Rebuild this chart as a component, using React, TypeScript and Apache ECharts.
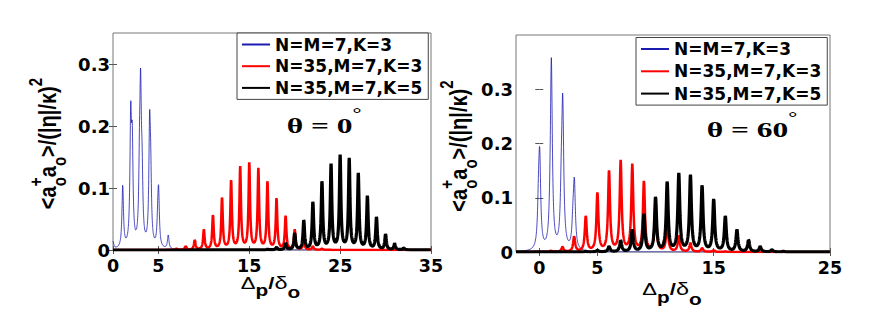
import React, { useEffect, useRef } from "react";
import * as echarts from "echarts";

// ---------- data ----------
const SERIES_NAMES = ["N=M=7,K=3", "N=35,M=7,K=3", "N=35,M=7,K=5"];
const SERIES_COLORS = ["#1c1cb0", "#ff0000", "#000000"];
const SERIES_WIDTHS = [0.8, 2.5, 3.2];

// panel a : theta = 0 deg  (peak centres and peak heights)
const A_BLUE_POS = [0.0, 1.07, 1.95, 2.12, 2.92, 3.04, 3.2, 4.03, 4.15, 4.93, 5.02, 6.08];
const A_BLUE_H = [0.012, 0.1, 0.195, 0.15, 0.1, 0.22, 0.093, 0.18, 0.093, 0.035, 0.08, 0.022];
const A_RED_POS = [7, 8, 9, 10, 11, 12, 13, 14, 15, 16, 17, 18, 19, 20, 21, 22, 23];
const A_RED_H = [0.002, 0.006, 0.016, 0.032, 0.055, 0.083, 0.111, 0.132, 0.138, 0.129, 0.109, 0.082, 0.054, 0.032, 0.016, 0.006, 0.002];
const A_BLACK_POS = [17, 18, 19, 20, 21, 22, 23, 24, 25, 26, 27, 28, 29, 30, 31, 32];
const A_BLACK_H = [0.001, 0.004, 0.011, 0.027, 0.047, 0.076, 0.109, 0.136, 0.15, 0.145, 0.121, 0.086, 0.052, 0.025, 0.01, 0.003];

// panel b : theta = 60 deg
const B_BLUE_POS = [-0.06, 0.04, 0.93, 1.04, 1.9, 2.02, 2.9, 3.02];
const B_BLUE_H = [0.072, 0.152, 0.02, 0.343, 0.085, 0.251, 0.042, 0.117];
const B_RED_POS = [1, 2, 3, 4, 5, 6, 7, 8, 9, 10, 11, 12, 13, 14, 15, 16];
const B_RED_H = [0.002, 0.009, 0.028, 0.065, 0.108, 0.147, 0.166, 0.159, 0.129, 0.09, 0.055, 0.03, 0.016, 0.007, 0.003, 0.001];
const B_BLACK_POS = [4, 5, 6, 7, 8, 9, 10, 11, 12, 13, 14, 15, 16, 17, 18, 19, 20, 21];
const B_BLACK_H = [0.001, 0.003, 0.01, 0.021, 0.04, 0.069, 0.1, 0.128, 0.142, 0.139, 0.121, 0.096, 0.065, 0.04, 0.022, 0.01, 0.004, 0.001];

const PEAK_WIDTH_BLUE = 0.1;
const PEAK_WIDTH = 0.1;

const A_X_RANGE = [0, 35];
const B_X_RANGE = [-2, 25];
const A_Y_MAX = 0.35;
const B_Y_MAX = 0.4;
const A_X_TICKS = [0, 5, 15, 25, 35];
const B_X_TICKS = [0, 5, 15, 25];
const Y_TICKS = [0, 0.1, 0.2, 0.3];

// ---------- helpers ----------
function peaksCurve(pos: number[], h: number[], g: number, range: number[]) {
  const step = 0.01;
  const n = Math.round((range[1] - range[0]) / step);
  const out: number[][] = [];
  const g2 = g * g;
  for (let i = 0; i <= n; i++) {
    const x = range[0] + i * step;
    let y = 0;
    for (let k = 0; k < pos.length; k++) {
      const d = x - pos[k];
      y += (h[k] * g2) / (g2 + d * d);
    }
    out.push([Math.round(x * 1000) / 1000, y]);
  }
  return out;
}

type Piece = { t: string; size: number; bold?: boolean; serif?: boolean; dy: number; over?: boolean };
let measureCtx: CanvasRenderingContext2D | null = null;
function fam(p: Piece) {
  return p.serif ? "Liberation Serif" : "Liberation Sans";
}
function textWidth(p: Piece) {
  if (!measureCtx) measureCtx = document.createElement("canvas").getContext("2d");
  if (!measureCtx) return p.t.length * p.size * 0.6;
  measureCtx.font = `${p.bold ? "bold " : ""}${p.size}px "${fam(p)}"`;
  return measureCtx.measureText(p.t).width;
}
function formula(
  pieces: Piece[],
  x: number,
  y: number,
  opts: { rotation?: number; scaleX?: number; scaleY?: number; center?: boolean }
) {
  let cursor = 0;
  let prevStart = 0;
  const items: { p: Piece; start: number }[] = [];
  for (const p of pieces) {
    const w = textWidth(p);
    const start = p.over ? prevStart : cursor;
    cursor = Math.max(p.over ? cursor : 0, start + w);
    items.push({ p, start });
    prevStart = start;
  }
  const shift = opts.center ? -cursor / 2 : 0;
  return {
    type: "group",
    x,
    y,
    rotation: opts.rotation || 0,
    scaleX: opts.scaleX || 1,
    scaleY: opts.scaleY || 1,
    silent: true,
    children: items.map(({ p, start }) => ({
      type: "text",
      x: start + shift,
      y: p.dy,
      style: {
        text: p.t,
        fontSize: p.size,
        fontWeight: p.bold ? "bold" : "normal",
        fontFamily: fam(p),
        fill: "#000",
        align: "left",
        verticalAlign: "middle",
        textAlign: "left",
        textVerticalAlign: "middle",
      },
    })),
  };
}

const tickFont = { fontFamily: "DejaVu Sans", fontWeight: "bold" as const, color: "#000" };

function xAxes(grid: number, range: number[], ticks: number[]) {
  const base = {
    type: "value",
    gridIndex: grid,
    min: range[0],
    max: range[1],
    axisLine: { show: false },
    splitLine: { show: false },
  };
  return [
    {
      ...base,
      position: "bottom",
      axisTick: { show: true, inside: true, length: 4, customValues: ticks, lineStyle: { color: "#555" } },
      axisLabel: { customValues: ticks, margin: 7, fontSize: 17.5, ...tickFont },
    },
    {
      ...base,
      position: "top",
      axisTick: { show: true, inside: true, length: 4, customValues: ticks, lineStyle: { color: "#555" } },
      axisLabel: { show: false },
    },
  ];
}
function yAxes(grid: number, max: number) {
  const base = {
    type: "value",
    gridIndex: grid,
    min: 0,
    max,
    axisLine: { show: false },
    splitLine: { show: false },
  };
  return [
    {
      ...base,
      position: "left",
      axisTick: { show: true, inside: true, length: 4, customValues: Y_TICKS, lineStyle: { color: "#555" } },
      axisLabel: { customValues: Y_TICKS, margin: 3, fontSize: 18, ...tickFont },
    },
    {
      ...base,
      position: "right",
      axisTick: { show: true, inside: true, length: 4, customValues: Y_TICKS, lineStyle: { color: "#555" } },
      axisLabel: { show: false },
    },
  ];
}

function yTitle(x: number, y: number) {
  return formula(
    [
      { t: "<a", size: 20, bold: true, dy: -6 },
      { t: "+", size: 15, bold: true, dy: -16 },
      { t: "o", size: 15, bold: true, dy: 4, over: true },
      { t: "a", size: 20, bold: true, dy: -6 },
      { t: "o", size: 15, bold: true, dy: 4 },
      { t: ">/(|η|/κ)", size: 20, bold: true, dy: -6 },
      { t: "2", size: 15, bold: true, dy: -16 },
    ],
    x,
    y,
    { rotation: Math.PI / 2, scaleY: 1.2, center: true }
  );
}
function xTitle(x: number, y: number) {
  return formula(
    [
      { t: "Δ", size: 17, dy: -6 },
      { t: "p", size: 16, bold: true, dy: 2 },
      { t: "/", size: 17, bold: true, dy: -6 },
      { t: "δ", size: 18, dy: -6 },
      { t: "o", size: 16, bold: true, dy: 4 },
    ],
    x,
    y,
    { scaleX: 1.3, center: true }
  );
}
function thetaLabel(x: number, y: number, deg: string) {
  return formula(
    [
      { t: `θ = ${deg}`, size: 21, bold: true, serif: true, dy: -7 },
      { t: "°", size: 15, bold: true, serif: true, dy: -20 },
    ],
    x,
    y,
    { scaleX: 1.5 }
  );
}

function legend(left: number, top: number, gap: number) {
  return {
    left,
    top,
    orient: "vertical",
    data: SERIES_NAMES,
    selectedMode: false,
    padding: [3, 6, 3, 4],
    itemGap: gap,
    itemWidth: 28,
    itemHeight: 14,
    itemStyle: { opacity: 0 },
    backgroundColor: "#fff",
    borderColor: "#444",
    borderWidth: 1,
    borderRadius: 0,
    textStyle: { fontFamily: "DejaVu Sans", fontWeight: "bold", fontSize: 17, color: "#000" },
  };
}

export default function App() {
  const ref = useRef<HTMLDivElement>(null);
  useEffect(() => {
    if (!ref.current) return;
    const chart = echarts.init(ref.current, undefined, { renderer: "svg" });
    const panelA = [
      peaksCurve(A_BLUE_POS, A_BLUE_H, PEAK_WIDTH_BLUE, A_X_RANGE),
      peaksCurve(A_RED_POS, A_RED_H, PEAK_WIDTH, A_X_RANGE),
      peaksCurve(A_BLACK_POS, A_BLACK_H, PEAK_WIDTH, A_X_RANGE),
    ];
    const panelB = [
      peaksCurve(B_BLUE_POS, B_BLUE_H, PEAK_WIDTH_BLUE, B_X_RANGE),
      peaksCurve(B_RED_POS, B_RED_H, PEAK_WIDTH, B_X_RANGE),
      peaksCurve(B_BLACK_POS, B_BLACK_H, PEAK_WIDTH, B_X_RANGE),
    ];
    const mk = (data: number[][], i: number, axis: number) => ({
      type: "line",
      name: SERIES_NAMES[i],
      data,
      xAxisIndex: axis,
      yAxisIndex: axis,
      symbol: "none",
      showSymbol: false,
      lineStyle: { color: SERIES_COLORS[i], width: SERIES_WIDTHS[i] },
      itemStyle: { color: SERIES_COLORS[i] },
      z: 2 + i,
    });
    chart.setOption({
      animation: false,
      backgroundColor: "#fff",
      grid: [
        { left: 113, top: 33, width: 318, height: 217, show: true, borderColor: "#777", borderWidth: 1 },
        { left: 516, top: 35, width: 314, height: 217, show: true, borderColor: "#777", borderWidth: 1 },
      ],
      xAxis: [...xAxes(0, A_X_RANGE, A_X_TICKS), ...xAxes(1, B_X_RANGE, B_X_TICKS)],
      yAxis: [...yAxes(0, A_Y_MAX), ...yAxes(1, B_Y_MAX)],
      legend: [legend(237, 33, 4.7), legend(636, 37.5, 5.3)],
      series: [
        ...panelA.map((d, i) => mk(d, i, 0)),
        ...panelB.map((d, i) => mk(d, i, 2)),
      ],
      graphic: [
        yTitle(55, 143.5),
        yTitle(466, 146),
        xTitle(270.5, 288.5),
        xTitle(672, 295),
        thetaLabel(286.7, 133, "0"),
        thetaLabel(706.7, 137, "60"),
      ],
    });
    return () => chart.dispose();
  }, []);
  return <div ref={ref} style={{ position: "absolute", left: 0, top: 0, width: 872, height: 327 }} />;
}
